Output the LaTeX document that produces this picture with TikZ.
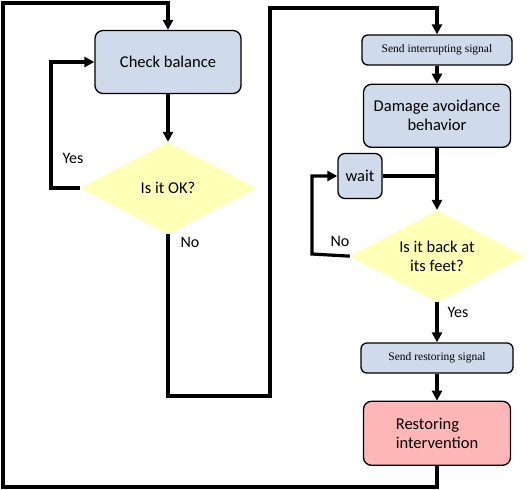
\documentclass[tikz,border=0pt]{standalone}
\usepackage{fontspec}
\setmainfont{Carlito}
\newfontfamily\signalfont{Liberation Serif}
\usepackage{tikz}
\usetikzlibrary{positioning,shapes.geometric,arrows.meta}

\definecolor{boxblue}{RGB}{207,219,235}
\definecolor{decyellow}{RGB}{255,255,182}
\definecolor{restpink}{RGB}{255,182,182}

\begin{document}
\begin{tikzpicture}[x=1pt, y=-1pt, node distance=18pt,
  stepbox/.style={draw, rounded corners=8pt, line width=1.3pt, fill=boxblue, font=\fontsize{16.5}{19}\selectfont, align=center, inner sep=2pt},
  signalbox/.style={draw, rounded corners=6pt, line width=1.3pt, fill=boxblue, font=\signalfont\fontsize{11.5}{13}\selectfont, minimum height=30pt, inner sep=2pt},
  decision/.style={diamond, fill=decyellow, inner sep=0pt, aspect=1.9, font=\fontsize{16.5}{19}\selectfont, align=center},
  flow/.style={line width=3.2pt, -{Triangle[length=10pt,width=10pt]}},
  link/.style={line width=3.2pt},
  lbl/.style={font=\fontsize{16}{19}\selectfont}]
  \useasboundingbox (0,0) rectangle (528,490);

  % left part
  \node (check) [stepbox, minimum width=146pt, minimum height=63pt] at (168,62) {Check balance};
  \node (ok) [decision, minimum width=176pt, minimum height=92pt] at (168,188) {Is it OK?};

  % right part
  \node (sendint) [signalbox, minimum width=150pt] at (437,50) {Send interrupting signal};
  \node (damage) [stepbox, below=18pt of sendint, minimum width=147pt, minimum height=63pt] {Damage avoidance\\behavior};
  \node (back) [decision, below=62pt of damage, minimum width=174pt, minimum height=92pt] {Is it back at\\its feet?};
  \node (wait) [stepbox, minimum width=44pt, minimum height=45pt, rounded corners=7pt] at (360,176) {wait};
  \node (sendrest) [signalbox, below=40pt of back, minimum width=152pt] {Send restoring signal};
  \node (restore) [stepbox, below=27pt of sendrest, minimum width=147pt, minimum height=64pt, fill=restpink, align=left] {Restoring\\intervention};

  % corners of the loops
  \coordinate (botleft) at (3,487);
  \coordinate (topleft) at (3,3);
  \coordinate (yesturn) at (51,188);
  \coordinate (nobot) at (270,396);
  \coordinate (notop) at (270,8);
  \coordinate (waitturn) at (312,254);

  \draw[flow] (restore.south) |- (botleft) -- (topleft) -| (check.north);
  \draw[flow] (check) -- (ok);
  \draw[flow] (ok.west) -- (yesturn) |- (check.west);
  \draw[flow] (ok.south) |- (nobot) -- (notop) -| (sendint.north);
  \draw[flow] (sendint) -- (damage);
  \draw[flow] (damage) -- (back);
  \draw[link] (wait.east) -- (wait.east -| damage.south);
  \draw[flow] (back.west) -- (waitturn) |- (wait.west);
  \draw[flow] (back) -- (sendrest);
  \draw[flow] (sendrest) -- (restore);

  \node (yesok) [lbl] at (73,158) {Yes};
  \node (nook) [lbl] at (190,242) {No};
  \node (noback) [lbl] at (340,241) {No};
  \node (yesback) [lbl] at (458,312) {Yes};
\end{tikzpicture}
\end{document}
